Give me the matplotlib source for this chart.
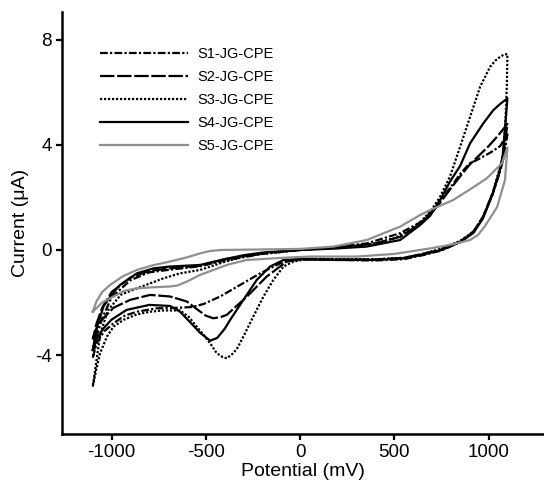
import matplotlib
matplotlib.use('Agg')
import matplotlib.pyplot as plt

plt.rcParams['font.family'] = ['Liberation Sans', 'DejaVu Sans']
plt.rcParams['axes.unicode_minus'] = False

# each loop: forward (lower) branch -1100 -> 1100, then back along the upper branch
s1_E = [-1100, -1079, -1040, -990, -930, -866, -760, -654, -570, -510, -424, -318, -212, -106, -18, 200, 400, 550, 650, 750, 850, 920, 970, 1020, 1055, 1080, 1100,
        1061, 1008, 937, 900, 850, 795, 743, 690, 637, 531, 354, 177, 0, -200, -400, -531, -690, -800, -900, -1000, -1050, -1080, -1100]
s1_I = [-4.1, -3.55, -3.1, -2.79, -2.5, -2.35, -2.22, -2.2, -2.17, -2.05, -1.77, -1.33, -0.89, -0.51, -0.35, -0.38, -0.4, -0.35, -0.2, -0.02, 0.3, 0.7, 1.25, 2.1, 2.85, 3.5, 4.4,
        3.95, 3.7, 3.42, 3.3, 2.9, 2.35, 1.9, 1.4, 1.05, 0.64, 0.25, 0.1, 0.0, -0.15, -0.4, -0.62, -0.75, -0.85, -1.15, -1.8, -2.6, -3.3, -4.1]

s2_E = [-1100, -1080, -1052, -990, -902, -796, -690, -601, -548, -500, -460, -420, -389, -340, -283, -177, -71, 0, 200, 400, 550, 650, 750, 850, 920, 970, 1020, 1055, 1080, 1100,
        1050, 1000, 950, 900, 849, 795, 743, 690, 637, 531, 400, 200, 0, -200, -400, -531, -690, -800, -900, -1000, -1050, -1080, -1100]
s2_I = [-3.4, -3.0, -2.66, -2.2, -1.9, -1.71, -1.77, -1.96, -2.25, -2.5, -2.6, -2.55, -2.47, -2.15, -1.78, -1.01, -0.44, -0.36, -0.36, -0.36, -0.3, -0.15, 0.02, 0.32, 0.7, 1.25, 2.15, 2.9, 3.7, 4.8,
        4.35, 3.95, 3.6, 3.25, 2.8, 2.3, 1.8, 1.35, 1.0, 0.5, 0.25, 0.1, 0.0, -0.12, -0.35, -0.6, -0.7, -0.8, -1.05, -1.6, -2.2, -2.8, -3.4]

s3_E = [-1100, -1080, -1061, -1025, -990, -937, -866, -796, -725, -637, -590, -548, -510, -477, -442, -410, -389, -354, -330, -301, -248, -195, -142, -88, -35, 53, 200, 400, 550, 650, 750, 850, 920, 970, 1020, 1050, 1070, 1080, 1090, 1097, 1100,
        1085, 1061, 1035, 1008, 955, 902, 849, 795, 743, 700, 650, 600, 500, 400, 300, 200, 0, -200, -300, -400, -531, -637, -725, -866, -950, -1020, -1060, -1080, -1100]
s3_I = [-5.2, -4.5, -3.93, -3.3, -2.92, -2.66, -2.45, -2.35, -2.3, -2.3, -2.55, -2.92, -3.25, -3.55, -3.93, -4.08, -4.12, -3.93, -3.7, -3.3, -2.53, -1.78, -1.14, -0.63, -0.44, -0.32, -0.35, -0.35, -0.3, -0.15, 0.05, 0.35, 0.7, 1.25, 2.1, 2.9, 3.3, 3.8, 5.0, 6.3, 7.45,
        7.45, 7.35, 7.2, 6.97, 6.21, 5.07, 3.93, 2.79, 2.03, 1.55, 1.15, 0.8, 0.45, 0.25, 0.15, 0.1, 0.0, -0.15, -0.25, -0.45, -0.76, -0.89, -1.08, -1.46, -1.7, -2.3, -3.2, -4.2, -5.2]

s4_E = [-1100, -1080, -1045, -1000, -920, -800, -690, -637, -583, -531, -477, -440, -400, -371, -301, -230, -159, -88, 0, 200, 400, 550, 650, 750, 850, 920, 970, 1020, 1055, 1075, 1088, 1100,
        1060, 1025, 972, 902, 849, 795, 743, 690, 637, 531, 354, 177, 0, -200, -300, -400, -531, -690, -778, -866, -955, -1000, -1043, -1080, -1100]
s4_I = [-3.8, -3.4, -3.0, -2.65, -2.28, -2.09, -2.13, -2.35, -2.75, -3.15, -3.45, -3.35, -3.0, -2.66, -1.9, -1.14, -0.63, -0.38, -0.35, -0.38, -0.38, -0.32, -0.18, 0.0, 0.3, 0.65, 1.2, 2.1, 2.9, 3.6, 4.7, 5.77,
        5.55, 5.32, 4.82, 4.06, 3.2, 2.6, 1.9, 1.3, 0.95, 0.38, 0.13, 0.05, 0.0, -0.1, -0.2, -0.35, -0.57, -0.63, -0.7, -0.89, -1.33, -1.7, -2.15, -3.0, -3.8]

s5_E = [-1100, -1050, -990, -930, -866, -780, -690, -650, -600, -531, -460, -380, -283, -100, 53, 300, 500, 690, 800, 902, 945, 980, 1045, 1087, 1100,
        1071, 991, 900, 812, 690, 637, 531, 354, 177, 0, -200, -420, -480, -531, -600, -690, -780, -866, -940, -1008, -1050, -1080, -1100]
s5_I = [-2.35, -2.0, -1.77, -1.55, -1.46, -1.42, -1.39, -1.35, -1.2, -0.95, -0.76, -0.55, -0.38, -0.3, -0.25, -0.25, -0.15, 0.06, 0.2, 0.38, 0.58, 0.9, 1.63, 2.66, 3.9,
        3.3, 2.73, 2.3, 1.9, 1.52, 1.33, 0.89, 0.38, 0.13, 0.04, 0.02, 0.0, -0.04, -0.13, -0.28, -0.44, -0.58, -0.76, -1.0, -1.33, -1.6, -1.95, -2.35]

labels = ['S1-JG-CPE', 'S2-JG-CPE', 'S3-JG-CPE', 'S4-JG-CPE', 'S5-JG-CPE']


def main():
	fig = plt.figure(figsize=(5.44, 4.87), dpi=100)
	ax = fig.add_axes([0.114, 0.109, 0.886, 0.866])

	lw = 1.6
	ax.plot(s1_E, s1_I, color='black', lw=lw, linestyle=(0, (3.5, 1.0, 1.0, 1.0)), label=labels[0])
	ax.plot(s2_E, s2_I, color='black', lw=lw, linestyle=(0, (6.5, 1.2)), label=labels[1])
	ax.plot(s3_E, s3_I, color='black', lw=lw, linestyle=(0, (1.0, 0.8)), label=labels[2])
	ax.plot(s4_E, s4_I, color='black', lw=lw, label=labels[3])
	ax.plot(s5_E, s5_I, color='#8f8f8f', lw=lw, label=labels[4])

	ax.set_xlim(-1263, 1294)
	ax.set_ylim(-7.0, 9.05)
	ax.set_xticks([-1000, -500, 0, 500, 1000])
	ax.set_yticks([-4, 0, 4, 8])

	for side in ['top', 'right']:
		ax.spines[side].set_visible(False)
	for side in ['left', 'bottom']:
		ax.spines[side].set_linewidth(1.8)
	ax.tick_params(direction='out', length=4.5, width=1.6, labelsize=13.5, pad=3)

	ax.set_xlabel('Potential (mV)', fontsize=14, labelpad=1)
	ax.set_ylabel('Current (\u03bcA)', fontsize=14, labelpad=4)

	ax.legend(loc='upper left', bbox_to_anchor=(0.079, 0.918), frameon=False, fontsize=10.5,
		handlelength=6.0, handletextpad=0.7, labelspacing=0.62, borderpad=0, borderaxespad=0)

	fig.savefig('out.png', dpi=100)


if __name__ == "__main__":
	main()
